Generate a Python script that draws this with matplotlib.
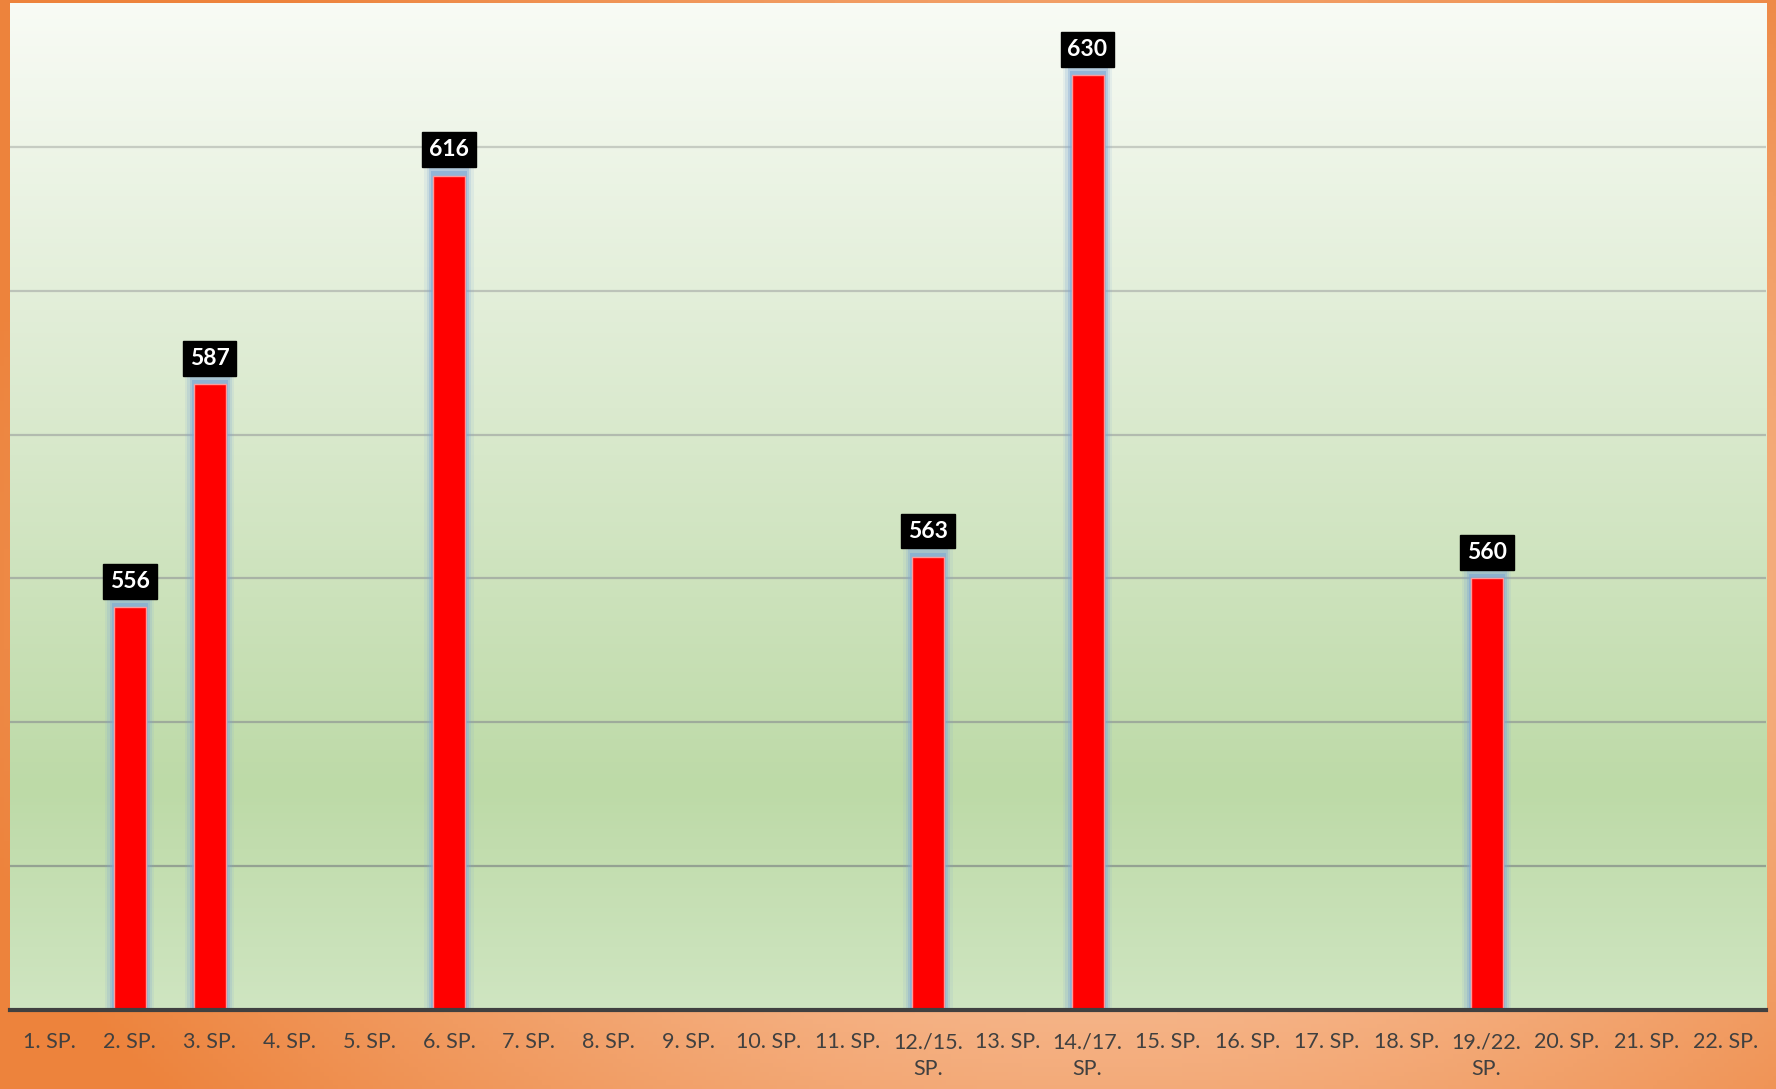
import numpy as np
import matplotlib
matplotlib.use("Agg")
import matplotlib.pyplot as plt
from matplotlib.colors import LinearSegmentedColormap, to_rgb

categories = ["1. SP.", "2. SP.", "3. SP.", "4. SP.", "5. SP.", "6. SP.", "7. SP.",
              "8. SP.", "9. SP.", "10. SP.", "11. SP.", "12./15.\nSP.", "13. SP.",
              "14./17.\nSP.", "15. SP.", "16. SP.", "17. SP.", "18. SP.",
              "19./22.\nSP.", "20. SP.", "21. SP.", "22. SP."]
values = [None, 556, 587, None, None, 616, None, None, None, None, None, 563,
          None, 630, None, None, None, None, 560, None, None, None]
y_min, y_max, y_step = 500, 640, 20

plt.rcParams['font.family'] = ['Lato', 'DejaVu Sans']

W, H = 1776, 1089
fig = plt.figure(figsize=(W / 100, H / 100), dpi=100)

# orange background, lighter in the middle
bg = fig.add_axes([0, 0, 1, 1], zorder=-10)
gx, gy = np.meshgrid(np.linspace(0, 1, 400), np.linspace(0, 1, 250))
d = np.sqrt(((gx - 0.62) / 0.6) ** 2 + ((gy - 0.45) / 0.7) ** 2)
d = np.clip(d / 1.1, 0, 1)
c_in, c_out = np.array(to_rgb("#fde3d0")), np.array(to_rgb("#ed833c"))
img = c_in + (c_out - c_in) * d[..., None] ** 1.0
bg.imshow(img, extent=[0, 1, 0, 1], aspect="auto", origin="lower")
bg.axis("off")

ax = fig.add_axes([10 / W, (H - 1010) / H, 1756 / W, 1007 / H])

# plot area gradient
cmap = LinearSegmentedColormap.from_list("g", [(0, "#cfe5c1"), (0.22, "#bddaa7"),
                                               (0.6, "#dbeacf"), (1, "#f8fbf5")])
grad = np.linspace(0, 1, 256)[:, None]
ax.imshow(grad, cmap=cmap, extent=[0, 1, 0, 1], transform=ax.transAxes,
          aspect="auto", origin="lower", zorder=0)

x = np.arange(len(categories))
ax.set_xlim(-0.5, len(categories) - 0.5)
ax.set_ylim(y_min, y_max)

# gridlines
for lv in range(y_min + y_step, y_max, y_step):
    t = (lv - y_min) / (y_max - y_min)
    col = np.array(to_rgb("#8a9a88")) * (1 - t) + np.array(to_rgb("#d0d4cc")) * t
    ax.axhline(lv, color=col, lw=1.6, zorder=1)

bx = [xi for xi, v in zip(x, values) if v is not None]
bv = [v for v in values if v is not None]
bh = [v - y_min for v in bv]

# soft blue glow
for w, a in [(0.62, 0.12), (0.56, 0.2), (0.5, 0.35), (0.45, 0.6)]:
    ax.bar(bx, [h + (w - 0.4) * 12 for h in bh], width=w, bottom=y_min,
           color="#7fa8d4", alpha=a, lw=0, zorder=2)
ax.bar(bx, bh, width=0.4, bottom=y_min, color="#ff0000",
       edgecolor="#ff9a9a", lw=1, zorder=3)

for xi, v in zip(bx, bv):
    ax.annotate(str(v), (xi, v), xytext=(0, 11), textcoords="offset points",
                ha="center", va="bottom", color="white", fontsize=16.5,
                fontweight="bold", zorder=5,
                bbox=dict(boxstyle="square,pad=0.3", fc="black", ec="black"))

ax.set_xticks(x)
ax.set_xticklabels(categories, fontsize=15.5, color="#404040", linespacing=1.45)
ax.set_yticks([])
ax.tick_params(axis="x", length=0, pad=16)
for s in ["left", "right", "top"]:
    ax.spines[s].set_visible(False)
ax.spines["bottom"].set_color("#404040")
ax.spines["bottom"].set_linewidth(3)
ax.spines["bottom"].set_zorder(6)

fig.savefig("out.png", dpi=100)
